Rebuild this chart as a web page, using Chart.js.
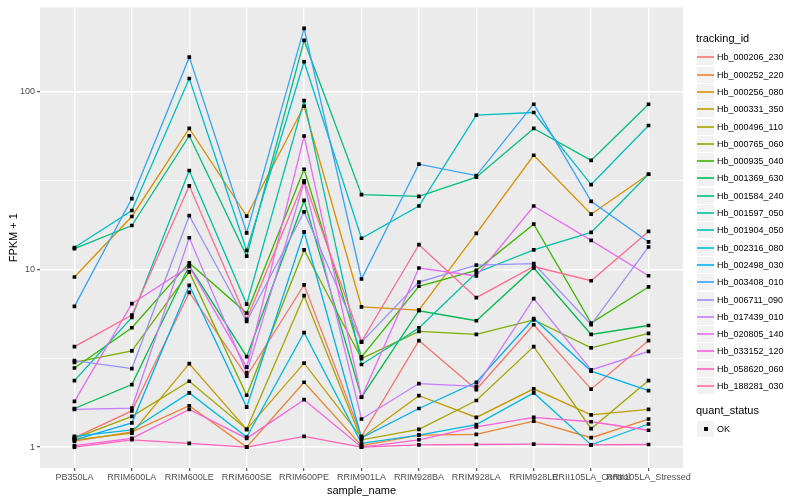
<!DOCTYPE html>
<html><head><meta charset="utf-8">
<script src="https://cdn.jsdelivr.net/npm/chart.js@4"></script>
<style>
html,body{margin:0;padding:0;background:#fff;}
#wrap{position:relative;width:800px;height:500px;font-family:"Liberation Sans",Arial,sans-serif;}
#c{position:absolute;left:0;top:0;}
.lt{position:absolute;font-size:11px;color:#000;white-space:nowrap;line-height:13px;}
.key{position:absolute;width:17px;height:16px;background:#F2F2F2;}
.key .ln{position:absolute;left:0;right:0;top:7px;height:2px;opacity:0.8;}
.lab{position:absolute;font-size:9px;color:#000;white-space:nowrap;line-height:16px;}
</style></head>
<body><div id="wrap"><canvas id="c" width="800" height="500"></canvas><div id="legend"></div></div>
<script>
const categories = ["PB350LA","RRIM600LA","RRIM600LE","RRIM600SE","RRIM600PE","RRIM901LA","RRIM928BA","RRIM928LA","RRIM928LE","RRII105LA_Control","RRII105LA_Stressed"];
const seriesNames = ["Hb_000206_230","Hb_000252_220","Hb_000256_080","Hb_000331_350","Hb_000496_110","Hb_000765_060","Hb_000935_040","Hb_001369_630","Hb_001584_240","Hb_001597_050","Hb_001904_050","Hb_002316_080","Hb_002498_030","Hb_003408_010","Hb_006711_090","Hb_017439_010","Hb_020805_140","Hb_033152_120","Hb_058620_060","Hb_188281_030"];
const seriesColors = ["#F8766D","#EA8331","#D89000","#C09B00","#A3A500","#7CAE00","#39B600","#00BB4E","#00BF7D","#00C1A3","#00BFC4","#00BAE0","#00B0F6","#35A2FF","#9590FF","#C77CFF","#E76BF3","#FA62DB","#FF62BC","#FF6C90"];

const Hb_000206_230 = [1.13, 1.6, 7.43, 2.51, 8.19, 1.15, 3.98, 2.11, 4.89, 2.12, 3.98];
const Hb_000252_220 = [1.08, 1.22, 1.71, 1.0, 2.32, 1.02, 1.17, 1.18, 1.4, 1.13, 1.44];
const Hb_000256_080 = [9.08, 19.9, 62.3, 20.0, 83.1, 6.17, 5.91, 16.0, 44, 20.5, 34.4];
const Hb_000331_350 = [1.1, 1.2, 2.95, 1.26, 2.97, 1.13, 1.95, 1.47, 2.13, 1.52, 1.63];
const Hb_000496_110 = [1.12, 1.49, 2.35, 1.26, 7.13, 1.1, 1.26, 1.83, 3.68, 1.27, 2.37];
const Hb_000765_060 = [3.0, 3.48, 9.7, 1.96, 12.9, 3.15, 4.48, 4.31, 5.2, 3.62, 4.37];
const Hb_000935_040 = [2.79, 4.7, 10.9, 5.69, 36.7, 3.22, 8.05, 9.9, 18.0, 5.0, 7.98];
const Hb_001369_630 = [1.65, 2.25, 10.5, 3.23, 24.5, 1.91, 5.86, 5.15, 10.2, 4.31, 4.84];
const Hb_001584_240 = [13.1, 17.7, 56.7, 11.9, 195, 26.4, 25.8, 33.1, 62.3, 41.2, 85.3];
const Hb_001597_050 = [2.37, 5.37, 36.1, 6.38, 89.4, 2.92, 4.69, 9.6, 12.9, 16.2, 34.4];
const Hb_001904_050 = [13.3, 21.5, 119, 12.8, 148, 15.0, 22.8, 74, 76.6, 30.1, 64.7];
const Hb_002316_080 = [1.15, 1.25, 2.02, 1.14, 4.41, 1.05, 1.17, 1.34, 2.02, 1.03, 1.35];
const Hb_002498_030 = [1.1, 1.37, 8.15, 1.68, 16.3, 1.13, 1.65, 2.32, 5.3, 2.68, 2.08];
const Hb_003408_010 = [6.2, 25.1, 157, 16.1, 228, 8.85, 39.2, 33.8, 85.3, 24.2, 14.3];
const Hb_006711_090 = [3.07, 2.77, 20.1, 5.1, 21.1, 3.9, 8.5, 10.6, 10.8, 4.9, 13.4];
const Hb_017439_010 = [1.63, 1.66, 15.1, 2.62, 30.9, 1.44, 2.28, 2.2, 6.86, 2.72, 3.46];
const Hb_020805_140 = [1.81, 6.43, 10.4, 2.82, 56.5, 1.91, 10.2, 9.2, 22.8, 14.6, 9.23];
const Hb_033152_120 = [1.02, 1.12, 1.63, 1.12, 1.85, 1.0, 1.1, 1.3, 1.47, 1.39, 1.245];
const Hb_058620_060 = [1.0, 1.1, 1.05, 1.0, 1.15, 1.0, 1.03, 1.035, 1.04, 1.03, 1.035];
const Hb_188281_030 = [3.68, 5.54, 29.6, 5.25, 31.6, 3.93, 13.8, 6.95, 10.4, 8.65, 16.4];

const seriesValues = [Hb_000206_230,Hb_000252_220,Hb_000256_080,Hb_000331_350,Hb_000496_110,Hb_000765_060,Hb_000935_040,Hb_001369_630,Hb_001584_240,Hb_001597_050,Hb_001904_050,Hb_002316_080,Hb_002498_030,Hb_003408_010,Hb_006711_090,Hb_017439_010,Hb_020805_140,Hb_033152_120,Hb_058620_060,Hb_188281_030];

const yTickValues = [1, 3.1623, 10, 31.623, 100];
const yTickLabels = ["1", "", "10", "", "100"];
const yMin = 0.763, yMax = 299.3;

const FAMILY = "'Liberation Sans', Arial, sans-serif";
Chart.defaults.font.family = FAMILY;

const datasets = [];
const n = seriesValues.length;
seriesValues.forEach((vals, i) => {
  datasets.push({
    label: seriesNames[i],
    data: vals.map((v, j) => ({x: j, y: v})),
    borderColor: seriesColors[i],
    backgroundColor: seriesColors[i],
    borderWidth: 1.3,
    pointRadius: 0,
    pointHoverRadius: 0,
    fill: false,
    tension: 0,
    order: 1 + (n - 1 - i)
  });
});
const allPoints = [];
seriesValues.forEach(vals => vals.forEach((v, j) => allPoints.push({x: j, y: v})));
datasets.push({
  label: "OK",
  data: allPoints,
  showLine: false,
  pointStyle: "rect",
  pointRadius: 2.6,
  pointBackgroundColor: "#000",
  pointBorderColor: "#000",
  pointBorderWidth: 0,
  order: 0
});

const bgPlugin = {
  id: "panelBg",
  beforeDraw(chart) {
    const {ctx, chartArea: a} = chart;
    ctx.save();
    ctx.fillStyle = "#EBEBEB";
    ctx.fillRect(a.left, a.top, a.right - a.left, a.bottom - a.top);
    ctx.restore();
  }
};

new Chart(document.getElementById("c"), {
  type: "line",
  data: {datasets},
  plugins: [bgPlugin],
  options: {
    responsive: false,
    animation: false,
    devicePixelRatio: 1,
    layout: {padding: {top: 5, right: 117, left: 0, bottom: 0}},
    plugins: {legend: {display: false}, tooltip: {enabled: false}},
    scales: {
      x: {
        type: "linear", min: -0.6, max: 10.6,
        afterBuildTicks: s => { s.ticks = categories.map((_, i) => ({value: i})); },
        afterFit: s => { s.height = 32; },
        ticks: {autoSkip: false, maxRotation: 0, minRotation: 0, padding: 1, color: "#4D4D4D",
          font: {size: 9}, callback: (v) => categories[v]},
        grid: {color: "#FFFFFF", lineWidth: 1.4, drawTicks: true, tickLength: 3, tickColor: "#333333", tickWidth: 1},
        border: {display: false},
        title: {display: true, text: "sample_name", color: "#000", font: {size: 11}, padding: {top: 0, bottom: 2}}
      },
      y: {
        type: "logarithmic", min: yMin, max: yMax,
        afterBuildTicks: s => { s.ticks = yTickValues.map(v => ({value: v})); },
        afterFit: s => { s.width = 40; },
        ticks: {autoSkip: false, padding: 2, color: "#4D4D4D", font: {size: 9},
          callback: (v, i) => yTickLabels[i]},
        grid: {color: "#FFFFFF",
          lineWidth: ctx => (ctx.index % 2 === 0 ? 1.4 : 0.7),
          drawTicks: true, tickLength: 3, tickWidth: 1,
          tickColor: ctx => (ctx.index % 2 === 0 ? "#333333" : "rgba(0,0,0,0)")},
        border: {display: false},
        title: {display: true, text: "FPKM + 1", color: "#000", font: {size: 11}, padding: {top: 7, bottom: 0}}
      }
    }
  }
});

// HTML legend
const lg = document.getElementById("legend");
function add(cls, css, text) {
  const d = document.createElement("div");
  d.className = cls;
  Object.assign(d.style, css);
  if (text !== undefined) d.textContent = text;
  lg.appendChild(d);
  return d;
}
add("lt", {left: "696px", top: "32px"}, "tracking_id");
seriesNames.forEach((name, i) => {
  const top = Math.round(57.3 + 17.3 * i - 8);
  const k = add("key", {left: "697px", top: top + "px"});
  const ln = document.createElement("div");
  ln.className = "ln";
  ln.style.background = seriesColors[i];
  k.appendChild(ln);
  add("lab", {left: "717px", top: top + "px"}, name);
});
add("lt", {left: "696px", top: "404px"}, "quant_status");
const k2 = add("key", {left: "697px", top: "421px"});
const sq = document.createElement("div");
Object.assign(sq.style, {position: "absolute", left: "7px", top: "6px", width: "4px", height: "4px", background: "#000"});
k2.appendChild(sq);
add("lab", {left: "717px", top: "421px"}, "OK");
</script>
</body></html>
